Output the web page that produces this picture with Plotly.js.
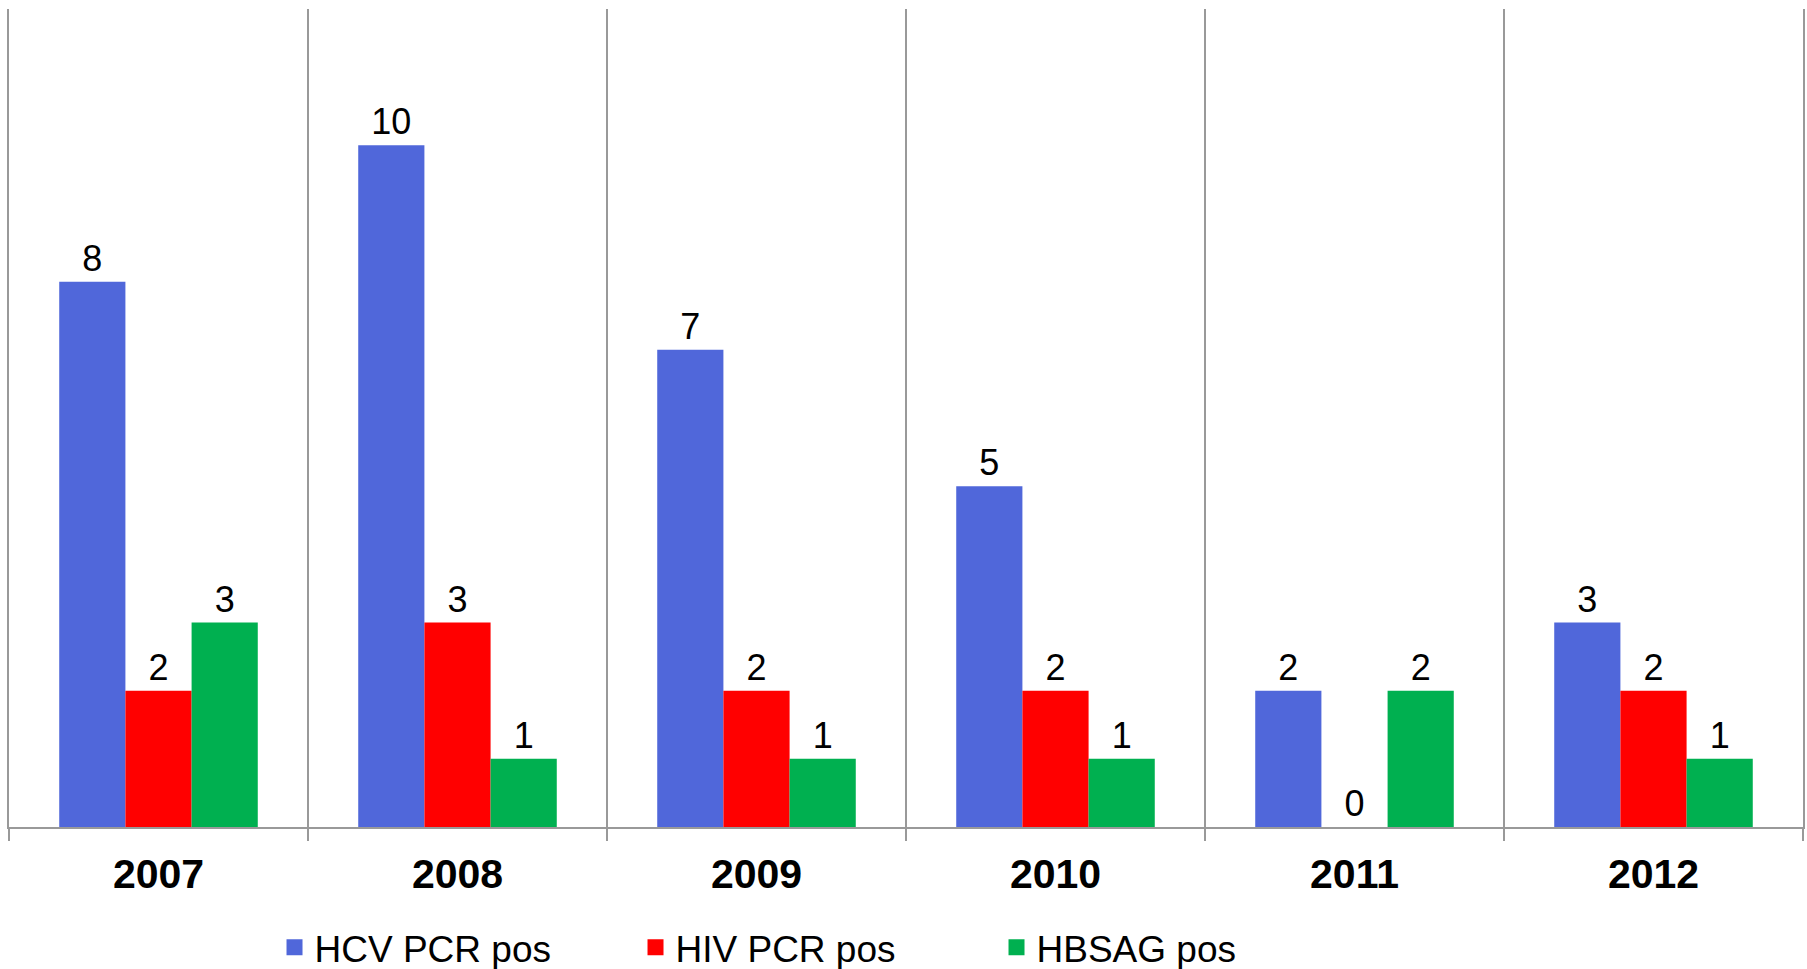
<!DOCTYPE html>
<html><head><meta charset="utf-8">
<script src="https://cdn.plot.ly/plotly-3.0.1.min.js"></script>
<style>html,body{margin:0;padding:0;background:#fff}#chart{width:1807px;height:969px}</style>
</head><body><div id="chart"></div>
<script>
var years = ['2007','2008','2009','2010','2011','2012'];
var hcv = [8,10,7,5,2,3];
var hiv = [2,3,2,2,0,2];
var hbsag = [3,1,1,1,2,1];
var seriesNames = ['HCV PCR pos','HIV PCR pos','HBSAG pos'];
var colors = ['#5067DA','#FF0000','#00B050'];
var series = [hcv, hiv, hbsag];
var FONT = 'Liberation Sans, Arial, sans-serif';
var traces = series.map(function(v,i){
  return {type:'bar', x:years, y:v, name:seriesNames[i], showlegend:false,
    marker:{color:colors[i]}, text:v.map(String), textposition:'outside',
    textfont:{family:FONT,size:36,color:'#000'}, cliponaxis:false, hoverinfo:'none'};
});
// legend-only entries with larger square swatches
seriesNames.forEach(function(n,i){
  traces.push({type:'scatter', mode:'markers', x:[null], y:[null], name:n,
    marker:{symbol:'square', size:20, color:colors[i]}, hoverinfo:'none'});
});
var layout = {
  width:1807, height:969,
  margin:{l:9,r:4,t:9,b:142, autoexpand:false},
  paper_bgcolor:'#fff', plot_bgcolor:'#fff',
  barmode:'group', bargap:0.336, bargroupgap:0,
  font:{family:FONT,color:'#000'},
  showlegend:true,
  legend:{orientation:'h', x:0.148, xanchor:'left', yref:'container', y:0.022, yanchor:'middle',
    font:{family:FONT,size:37,color:'#000'}, itemwidth:30, traceorder:'normal',
    entrywidth:316, entrywidthmode:'pixels'},
  xaxis:{type:'category', tickson:'boundaries', ticks:'outside', ticklen:12, tickwidth:2, tickcolor:'#999',
    showgrid:true, gridcolor:'#999', gridwidth:2, showline:true, linecolor:'#999', linewidth:2,
    ticklabelstandoff:10, automargin:false,
    tickfont:{family:FONT,size:41,color:'#000',weight:'bold'}, fixedrange:true},
  yaxis:{range:[0,12], showgrid:false, zeroline:false, showticklabels:false, ticks:'',
    showline:true, mirror:true, linecolor:'#999', linewidth:2, fixedrange:true}
};
Plotly.newPlot('chart', traces, layout, {displayModeBar:false, staticPlot:true});
</script></body></html>
